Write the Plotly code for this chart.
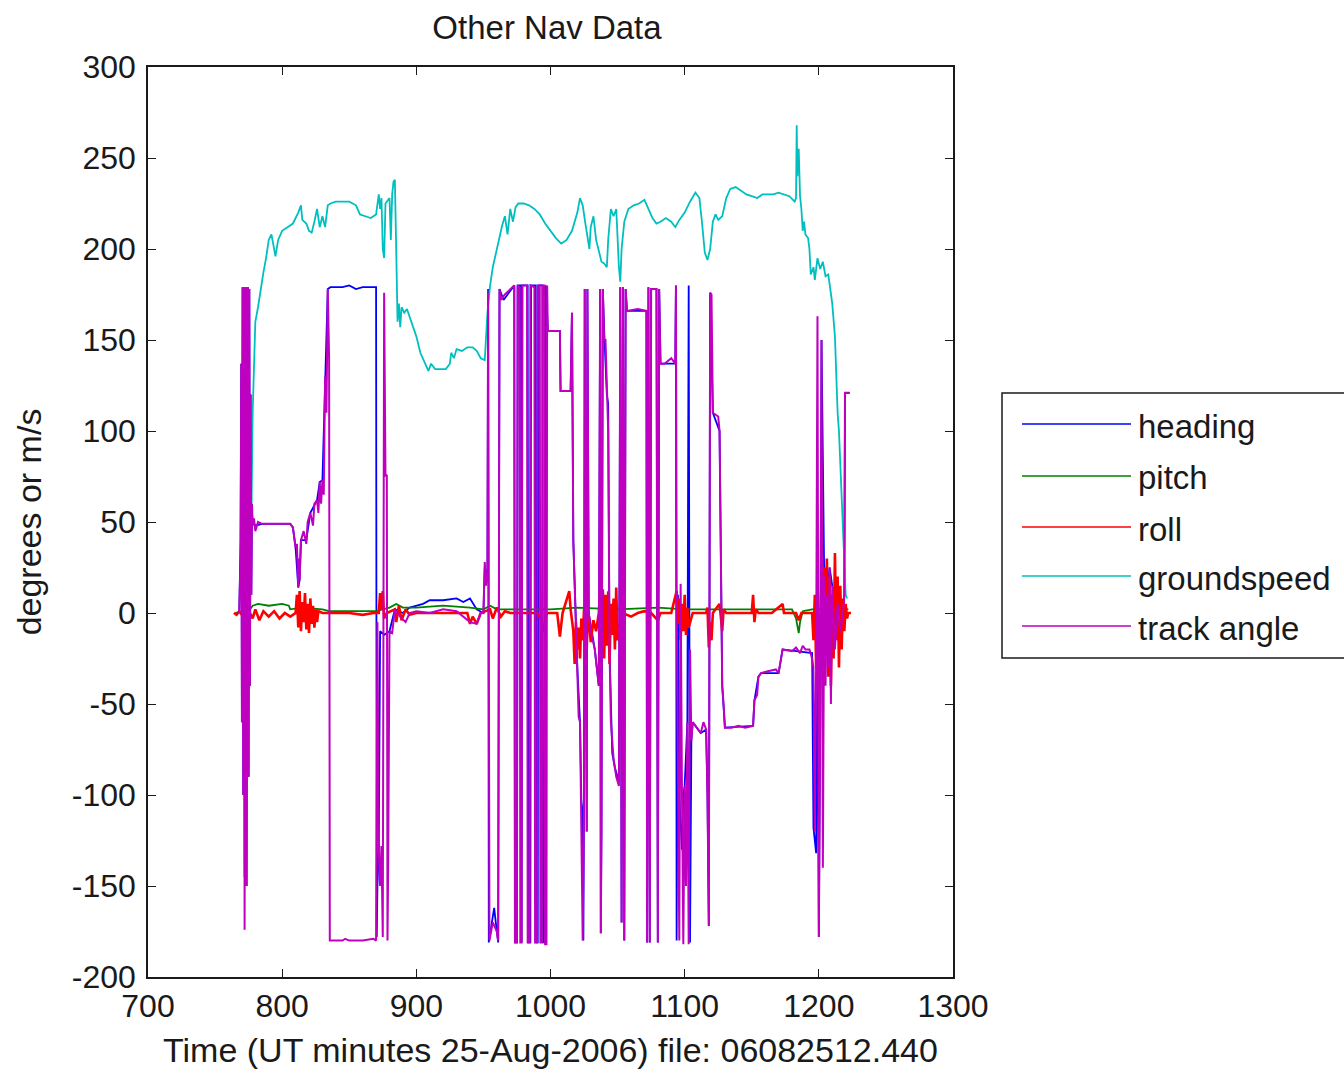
import plotly.graph_objects as go

# ---------------- data ----------------
series_names = ["heading", "pitch", "roll", "groundspeed", "track angle"]
series_colors = ["#0000FF", "#008000", "#FF0000", "#00BFBF", "#BF00BF"]
series_widths = [1.8, 1.8, 2.6, 1.8, 2.0]

heading_t = [768, 769, 769.5, 770, 770.5, 771, 771.5, 772, 772.5, 773, 773.5, 774, 774.5, 775, 775.5, 776, 776.5, 777, 777.5, 778,
             780, 785, 806, 808, 810, 812, 813, 814, 818, 821, 826, 828, 830, 832, 834, 836, 845, 850, 855, 860, 865, 870,
             870.5, 871, 872, 873, 876, 880, 884, 890, 895, 900, 905, 910, 920, 930, 935, 940, 945, 950, 951, 953, 953.5,
             954, 956, 958, 960, 961, 962, 965, 968, 973, 973.5, 975, 975.5, 978, 978.5, 979, 983, 983.5, 985, 985.5, 989,
             989.5, 990.5, 991, 994, 994.5, 996, 996.5, 998, 1007, 1007.5, 1015, 1016, 1017, 1020, 1022, 1023, 1024, 1024.5,
             1025, 1025.5, 1026, 1027, 1027.5, 1028.5, 1033, 1036, 1037, 1037.5, 1038, 1039, 1040, 1042, 1043, 1044, 1046,
             1048, 1050, 1051, 1052, 1053, 1054, 1055, 1056, 1057, 1071.5, 1072, 1073, 1074, 1075, 1079, 1080, 1081, 1082,
             1093, 1093.5, 1094, 1095, 1096, 1098, 1099, 1100, 1102, 1103, 1104, 1105, 1106, 1112, 1116, 1117, 1118, 1119,
             1121, 1126, 1127, 1128, 1130, 1151, 1152, 1155, 1157, 1170, 1173, 1195, 1196, 1198, 1199, 1200, 1201, 1202,
             1204, 1206, 1208, 1210, 1214, 1218, 1219, 1219.5, 1223]
heading_v = [0, 40, 137, -60, 179, -100, 179, -145, -121, 179, -150, 60, 179, -90, 178, -40, 120, 10, 55, 50,
             48, 49, 49, 47, 36, 14, 18, 40, 40, 55, 62, 72, 73, 130, 178, 179, 179, 180, 178, 179, 179, 179,
             -178, -150, -130, -10, -12, -10, 2, 0, 3, 4, 5, 7, 7, 8, 6, 8, 2, 0, 25, 20, 178,
             -181, -170, -162, -175, -181, 178, 172, 175, 180, -181, -181, 180, 180, -181, 180, 180, -181, -181, 180, 180,
             -181, -181, 180, 180, -181, -181, 180, 155, 155, 122, 122, 165, 40, -30, -60, -103, -110, -180,
             -100, 178, 72, -120, 178, 0, -20, -40, 178, -176, -118, 178, 155, 120, 115, -20, -77,
             -85, -90, -93, 179, -170, 179, -180, 178, 166, 166, -181, 179, -181, 178, 178, -181, 178, 137,
             137, 180, -180, 10, -100, -130, -100, -95, -60, 180, -181, -70, -60, -66, -64, -100, -172, 176,
             110, 100, 9, -40, -63, -62, -48, -35, -33, -33, -20, -22, -118, -132, -20, -178, -60, 150,
             20, 10, 25, 15, 5, 0, 10, 121, 121]

pitch_t = [765, 775, 778, 782, 790, 800, 805, 806, 815, 830, 835, 870, 880, 885, 890, 900, 920, 940, 950, 955, 960,
           1000, 1020, 1050, 1080, 1100, 1130, 1160, 1180, 1183, 1185, 1186, 1188, 1195, 1210, 1222]
pitch_v = [0, 1, 4, 5, 4, 5, 4, 2, 3, 2, 1, 1, 3, 5, 3, 3, 4, 3, 2, 4, 2,
           2, 3, 2, 3, 2, 2, 2, 2, -3, -11, -5, 1, 2, 3, 2]

roll_t = [764, 766, 768, 770, 772, 774, 776, 778, 780, 783, 786, 790, 794, 798, 802, 806, 810, 811, 812, 813, 814, 815,
          816, 817, 818, 819, 820, 821, 822, 823, 824, 825, 826, 827, 830, 850, 860, 868, 872, 873, 874, 875, 876, 878,
          884, 885, 887, 889, 892, 895, 900, 920, 938, 940, 942, 945, 948, 955, 957, 960, 963, 966, 970, 990, 993, 995,
          997, 1005, 1007, 1009, 1014, 1015, 1017, 1018, 1019, 1020, 1021, 1022, 1023, 1024, 1025, 1027, 1028, 1030,
          1032, 1034, 1036, 1037, 1038, 1039, 1040, 1041, 1042, 1043, 1044, 1045, 1046, 1047, 1048, 1049, 1050, 1052,
          1054, 1060, 1065, 1070, 1075, 1080, 1082, 1090, 1094, 1095, 1096, 1097, 1098, 1099, 1100, 1101, 1102, 1103,
          1105, 1106, 1110, 1116, 1117, 1118, 1119, 1120, 1121, 1126, 1128, 1129, 1131, 1140, 1150, 1151, 1152, 1153,
          1155, 1165, 1173, 1174, 1183, 1185, 1187, 1195, 1196, 1197, 1198, 1199, 1200, 1201, 1202, 1203, 1204, 1205,
          1206, 1207, 1208, 1209, 1210, 1211, 1212, 1213, 1214, 1215, 1216, 1217, 1218, 1219, 1220, 1221, 1222, 1224]
roll_v = [0, -1, 1, -1, 2, -2, 0, -3, 2, -4, 1, -2, 1, -3, 0, -2, 0, 10, -8, 12, -10, 6,
          -5, 11, -9, 5, -11, 8, -6, 4, -8, 2, -5, 1, 0, 0, -1, 0, 0, 11, 2, 12, -3, 0,
          2, -5, 4, -4, 2, -1, 0, 0, 0, -6, -2, -6, 0, 2, -3, 3, -2, 1, 0, 0, -3, -10,
          0, 0, -13, 0, 12, 2, -10, -28, -5, -20, -8, -25, -3, -15, 2, -20, 3, -16,
          -4, -10, 0, 14, -10, 13, -25, 10, -18, 12, -28, 5, -12, 8, -20, 14, -15, -5,
          0, -2, 0, 1, 0, -4, 0, 0, 12, -6, 8, -15, 5, -10, 10, -12, 3, -8,
          -2, 0, 0, 0, 3, -19, -5, -15, 0, 5, -10, 2, 0, 0, 0, 10, -5, 2,
          0, 0, 5, 0, 0, -4, 0, 0, -15, 10, -30, 5, -45, -5, 15, -20, 25, -10,
          30, -35, 20, -40, 10, -25, 33, -15, 20, -30, 15, -20, 8, -10, 5, -3, 0, 0]

speed_t = [776, 777, 778, 779, 780, 782, 784, 786, 788, 790, 792, 794, 795, 797, 800, 804, 808, 812, 814, 815, 818,
           820, 822, 824, 826, 828, 830, 832, 834, 836, 840, 845, 850, 855, 858, 862, 866, 870, 872, 873, 874, 875,
           876, 877, 878, 880, 881, 882, 883, 884, 885, 886, 887, 888, 889, 891, 893, 896, 900, 903, 906, 909, 911,
           914, 918, 922, 925, 926, 928, 930, 934, 938, 942, 945, 948, 951, 953, 955, 957, 960, 962, 964, 966, 968,
           970, 972, 974, 976, 980, 984, 988, 992, 996, 1000, 1004, 1008, 1012, 1016, 1020, 1022, 1024, 1026, 1028,
           1029, 1030, 1032, 1034, 1036, 1038, 1040, 1042, 1043, 1045, 1047, 1049, 1051, 1052, 1053, 1055, 1058,
           1062, 1066, 1070, 1073, 1076, 1079, 1082, 1086, 1090, 1093, 1096, 1100, 1104, 1108, 1111, 1113, 1115,
           1117, 1119, 1121, 1123, 1125, 1128, 1131, 1134, 1138, 1142, 1146, 1150, 1154, 1158, 1162, 1166, 1170,
           1174, 1178, 1182, 1183, 1183.5, 1184, 1185, 1186, 1187, 1188, 1189, 1190, 1192, 1193, 1194, 1196, 1197,
           1199, 1201, 1203, 1205, 1207, 1208, 1210, 1212, 1213, 1214, 1215, 1216, 1217, 1218, 1219, 1220, 1221]
speed_v = [45, 48, 110, 140, 160, 168, 178, 187, 195, 205, 208, 200, 196, 205, 210, 212, 214, 220, 224, 216, 214,
           210, 209, 215, 222, 212, 218, 212, 224, 225, 226, 226, 226, 224, 219, 218, 217, 219, 230, 222, 228, 200,
           195, 225, 226, 228, 205, 230, 237, 238, 200, 160, 170, 157, 168, 165, 167, 160, 152, 143, 138, 133, 137,
           134, 134, 134, 137, 143, 140, 145, 144, 146, 146, 144, 140, 139, 165, 180, 190, 200, 205, 213, 218, 208,
           222, 215, 223, 225, 225, 224, 222, 219, 214, 210, 206, 203, 205, 210, 220, 228, 224, 214, 205,
           200, 212, 218, 205, 198, 193, 192, 190, 205, 222, 218, 222, 190, 182, 200, 215, 222,
           224, 225, 227, 222, 217, 214, 215, 217, 215, 212, 216, 220, 226, 231, 228, 214, 198,
           194, 200, 215, 219, 216, 218, 228, 233, 234, 232, 230, 229, 228, 230, 230, 230, 231,
           230, 229, 226, 228, 268, 240, 255, 229, 222, 210, 215, 208, 206, 200, 186, 190, 183,
           195, 189, 193, 185, 186, 181, 170, 152, 130, 110, 100, 80, 70, 45, 25, 10, 8]

track_t = [768, 769, 769.5, 770, 770.5, 771, 771.5, 772, 772.5, 773, 773.5, 774, 774.5, 775, 775.5, 776, 776.5, 777,
           777.5, 778, 779, 780, 782, 785, 790, 800, 806, 808, 810, 811, 812, 812.5, 813, 814, 816, 818, 819, 821, 823,
           824, 826, 827, 828, 829, 830, 831, 832, 833, 834, 835, 835.5, 845, 847, 850, 860, 868, 870, 871, 872, 873,
           874, 875, 876, 877, 878, 878.5, 879, 880, 882, 884, 888, 892, 895, 900, 910, 920, 930, 940, 945, 948, 950,
           951, 952, 953, 953.5, 954.5, 955, 957, 960, 961, 962, 963, 966, 970, 973, 973.5, 975, 975.5, 977, 977.5,
           978.5, 979, 982.5, 983, 984.5, 985, 988, 988.5, 990, 990.5, 992, 992.5, 993.5, 994, 995.5, 996, 997, 997.5,
           998, 1007, 1007.5, 1015, 1016, 1017, 1019, 1020, 1021, 1022, 1023, 1024, 1025, 1025.5, 1026, 1027, 1027.5,
           1028.5, 1030, 1033, 1036, 1037, 1037.5, 1038, 1039, 1040, 1041, 1042, 1043, 1044, 1045, 1047, 1049, 1051,
           1052, 1053, 1054, 1055, 1056, 1057, 1065, 1071.5, 1072, 1073, 1074, 1075, 1079, 1080, 1081, 1082, 1085,
           1090, 1093, 1093.5, 1094, 1096, 1097, 1098, 1099, 1100, 1101, 1102, 1103, 1104, 1105, 1106, 1108, 1112,
           1114, 1116, 1117, 1118, 1119, 1120, 1121, 1125, 1126, 1126.5, 1127, 1127.5, 1128, 1129, 1130, 1135, 1140,
           1145, 1151, 1152, 1154, 1155, 1157, 1162, 1168, 1170, 1172, 1173, 1180, 1183, 1186, 1188, 1190, 1193, 1195,
           1196, 1197, 1198, 1199, 1200, 1201, 1202, 1203, 1204, 1205, 1206, 1207, 1208, 1209, 1210, 1212, 1214, 1216,
           1218, 1219, 1219.5, 1223]
track_v = [0, 30, 137, -60, 179, -100, 179, -174, 100, 179, -150, 60, 179, -90, 178, -40, 120, 10,
           60, 48, 52, 45, 50, 49, 49, 49, 49, 47, 36, 38, 14, 30, 18, 40, 45, 38, 50, 55, 48,
           60, 62, 55, 72, 60, 73, 65, 130, 110, 178, 140, -180, -180, -179, -180, -180, -179, -180, -5, -130, -150,
           -128, -178, 176, 75, 76, -180, -140, -10, -11, 2, -2, -5, 0, 1, 0, 2, 1, -5, -6, 0, 0,
           28, 15, 20, 176, -180, -178, -170, -175, -180, 178, 172, 175, 178, 180, -181, -181, 180, 179, -181,
           -181, 180, 180, -181, -181, 180, 179, -181, -181, 180, 180, -181, -181, 180, 180, -182, -182, 180,
           155, 155, 122, 122, 165, 40, -5, -30, -57, -60, -110, -180, -100, 178, 70, -120, 178,
           0, -10, -20, -40, 178, -176, -118, 178, 150, 150, 120, 100, -20, -60, -80, -90, -95,
           179, -170, 179, -180, 178, 166, 167, 166, -181, 179, -181, 178, 178, -181, 178, 137, 137,
           140, 137, 180, 10, -180, 16, -100, -182, -95, -150, -60, -182, -20, -70, -60, -62, -66,
           -60, -64, -100, -172, 176, 175, 110, 108, 100, 60, 9, -10, -40, -50, -63, -63, -62,
           -63, -62, -48, -45, -35, -33, -32, -31, -33, -25, -20, -21, -19, -22, -18, -20, -20, -25,
           -30, -120, -25, 163, -178, -60, 150, -140, 20, -40, 10, -30, 25, -50, 15, -20, 5, -10,
           0, 10, 121, 121]

x_ticks = [700, 800, 900, 1000, 1100, 1200, 1300]
y_ticks = [-200, -150, -100, -50, 0, 50, 100, 150, 200, 250, 300]

series_t = [heading_t, pitch_t, roll_t, speed_t, track_t]
series_v = [heading_v, pitch_v, roll_v, speed_v, track_v]

# ---------------- figure ----------------
FONT = "Liberation Sans, Arial, sans-serif"
INK = "#1a1a1a"
W, H = 1344, 1076
L, R, T, B = 148, 953, 67, 977  # plot area in pixels

fig = go.Figure()
for name, col, wd, t, v in zip(series_names, series_colors, series_widths, series_t, series_v):
    fig.add_trace(go.Scatter(x=t, y=v, mode="lines", name=name,
                             line=dict(color=col, width=wd), showlegend=False))

axis_common = dict(showgrid=False, zeroline=False, showline=True, linecolor=INK, linewidth=1.5,
                   mirror="allticks", ticks="inside", ticklen=8, tickwidth=1, tickcolor=INK,
                   tickfont=dict(family=FONT, size=32, color=INK))

fig.update_layout(
    width=W, height=H,
    margin=dict(l=L, r=W - R, t=T, b=H - B, autoexpand=False),
    paper_bgcolor="white", plot_bgcolor="white",
    title=dict(text="Other Nav Data", x=547 / W, xref="container", xanchor="center",
               y=1 - 27 / H, yref="container", yanchor="middle",
               font=dict(family=FONT, size=33, color=INK)),
    xaxis=dict(range=[700, 1300], tickvals=x_ticks, ticktext=[str(v) for v in x_ticks],
               title=dict(text="Time (UT minutes 25-Aug-2006) file: 06082512.440", standoff=15,
                          font=dict(family=FONT, size=34, color=INK)),
               ticklabelstandoff=0, **axis_common),
    yaxis=dict(range=[-200, 300], tickvals=y_ticks, ticktext=[str(v) for v in y_ticks],
               title=dict(text="degrees or m/s", standoff=20,
                          font=dict(family=FONT, size=34, color=INK)),
               ticklabelstandoff=4, **axis_common),
)

# ---------------- manual legend (long MATLAB-style line samples) ----------------
def px2x(px):
    return (px - L) / (R - L)

def py2y(py):
    return (B - py) / (B - T)

fig.add_shape(type="rect", xref="paper", yref="paper",
              x0=px2x(1002), x1=px2x(1400), y0=py2y(658), y1=py2y(393),
              line=dict(color=INK, width=1.5), fillcolor="white", layer="above")
rows = [424, 476, 527, 576, 626]
for name, col, row in zip(series_names, series_colors, rows):
    fig.add_shape(type="line", xref="paper", yref="paper",
                  x0=px2x(1022), x1=px2x(1131), y0=py2y(row), y1=py2y(row),
                  line=dict(color=col, width=1.5), layer="above")
    fig.add_annotation(text=name, xref="paper", yref="paper", x=px2x(1136), y=py2y(row + 2),
                       xanchor="left", yanchor="middle", showarrow=False,
                       font=dict(family=FONT, size=33, color=INK))

fig.write_html("out.html")
